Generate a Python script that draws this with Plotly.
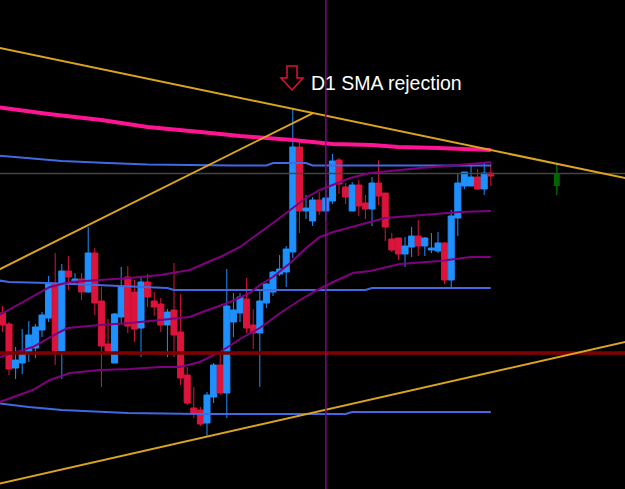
import plotly.graph_objects as go

W, H = 625, 489

# ---------------- candle data (index, OHLC in chart price units) ----------------
idx = list(range(75))
opens = [176,165,121,126,137,141,159,171,205,138,218,208,210,197,236,188,145,126,172,212,
         197,161,207,188,185,164,179,157,114,81,79,66,92,124,96,167,176,190,164,156,
         186,197,215,217,237,342,278,268,289,278,288,329,302,278,304,286,280,306,296,250,
         251,235,242,253,243,239,238,246,209,271,303,303,312,300,316]
highs = [183,167,142,160,168,165,177,213,236,225,233,216,216,262,241,202,170,176,222,223,
         209,212,215,197,191,180,226,195,122,102,82,97,126,138,220,196,196,211,180,198,
         206,218,234,243,380,347,294,292,297,307,335,331,306,307,309,294,312,329,296,256,
         251,252,262,269,252,256,257,247,279,316,317,325,320,326,326]
lows = [157,114,110,115,127,131,152,167,124,110,199,204,189,196,174,102,136,126,165,156,
        147,132,182,173,157,132,132,104,84,71,63,52,86,94,71,152,167,156,140,102,
        181,193,213,202,231,256,270,263,274,268,285,295,285,278,273,270,263,284,248,237,
        229,222,232,233,233,236,236,205,202,253,300,303,299,294,303]
closes = [164,120,129,135,154,162,174,206,138,218,212,210,197,236,186,143,138,175,203,163,
          160,207,192,182,164,177,154,111,86,76,65,94,124,96,183,179,192,161,156,188,
          205,217,220,240,342,278,281,289,278,291,328,305,292,304,283,280,306,293,262,239,
          235,243,253,243,251,241,246,209,273,306,317,312,300,316,313]

# higher-timeframe (green) candle on the right
g_idx = [84]
g_open, g_high, g_low, g_close = [303], [326], [294], [316]

# ---------------- indicators ----------------
sma_x = [-1, 2, 7, 15, 22, 30, 36, 44, 50, 56, 60, 66, 74]
sma_y = [382, 379, 375, 369, 362, 357, 353, 349, 345, 344, 342, 341, 339]

blue_up_x = [-1, 2, 6, 9, 16, 22, 35, 40, 41, 46, 47, 74]
blue_up_y = [333.5, 332, 330, 328, 326, 324.5, 323.5, 323.5, 326, 326, 323.5, 323.5]
blue_mid_x = [-1, 1, 7, 17, 25, 26, 55, 56, 74]
blue_mid_y = [209, 207, 206, 203, 201, 199, 199, 201, 201]
blue_lo_x = [-1, 4, 9, 19, 30, 52, 53, 74]
blue_lo_y = [86, 82, 79, 76, 75, 75, 77, 77]

bb_up_x = [-0.4, 4.6, 7.2, 10.2, 14.8, 19.3, 23.9, 28.4, 31.5, 33, 36, 39, 41, 43.6, 46.2,
           48.1, 50.1, 52.7, 55.7, 63.3, 70.9, 74]
bb_up_y = [174, 192, 202, 207, 209, 211, 214, 219, 228, 232, 242, 256, 266, 279, 292,
           299, 304, 311, 316, 321, 325, 327]
bb_mid_x = [-0.4, 4.6, 8.7, 9.9, 14.8, 19.3, 23.9, 28.4, 29.9, 31.5, 34.5, 37.5, 39, 41,
            43.6, 46.2, 48.1, 50.1, 52.7, 55.7, 58, 63.3, 69.3, 74]
bb_mid_y = [132, 142, 157, 161, 164, 166, 169, 172, 176, 180, 187, 196, 204, 212,
            226, 242, 252, 257, 262, 267, 271, 274, 277, 278]
bb_lo_x = [-0.4, 4.6, 7.2, 10.2, 14.8, 19.3, 23.9, 26.9, 29.9, 33, 36, 39, 42.1, 45.1,
           47.7, 50.1, 53.1, 55.7, 60.2, 66.3, 70.9, 74]
bb_lo_y = [87, 99, 109, 116, 119, 120, 122, 122, 127, 137, 150, 161, 176, 189,
           199, 207, 216, 218, 225, 228, 232, 232]

# trend lines (anchor points)
tl_down_x, tl_down_y = [-1, 95], [441.9, 310.1]
tl_short_x, tl_short_y = [-1, 47.06], [217.9, 375.9]
tl_long_x, tl_long_y = [-1, 95], [4.5, 148]

support_level = 136
bid_level = 315.5
vline_idx = 49

annotation_text = "D1 SMA rejection"

# ---------------- figure ----------------
fig = go.Figure()

def line(x, y, color, width):
    fig.add_trace(go.Scatter(x=x, y=y, mode="lines", hoverinfo="skip",
                             line=dict(color=color, width=width)))

line([-1, 95], [bid_level, bid_level], "#444444", 1.5)

fig.add_trace(go.Candlestick(
    x=idx, open=opens, high=highs, low=lows, close=closes,
    increasing=dict(line=dict(color="#1E90FF", width=1), fillcolor="#1E90FF"),
    decreasing=dict(line=dict(color="#DC143C", width=1), fillcolor="#DC143C"),
    whiskerwidth=0))

# green candle: wick + body
for i in range(len(g_idx)):
    line([g_idx[i], g_idx[i]], [g_low[i], g_high[i]], "#006400", 1.5)
fig.add_trace(go.Bar(
    x=g_idx,
    base=[min(o, c) for o, c in zip(g_open, g_close)],
    y=[abs(c - o) for o, c in zip(g_open, g_close)],
    width=0.9, marker=dict(color="#006400", line=dict(width=0)), hoverinfo="skip"))

line(blue_up_x, blue_up_y, "#4169E1", 2)
line(blue_mid_x, blue_mid_y, "#4169E1", 2)
line(blue_lo_x, blue_lo_y, "#4169E1", 2)
line(bb_up_x, bb_up_y, "#800080", 2)
line(bb_mid_x, bb_mid_y, "#800080", 2)
line(bb_lo_x, bb_lo_y, "#800080", 2)
line(sma_x, sma_y, "#FF1493", 4)
line([-1, 95], [support_level, support_level], "#800000", 3.5)
line(tl_down_x, tl_down_y, "#DAA520", 2)
line(tl_short_x, tl_short_y, "#DAA520", 2)
line(tl_long_x, tl_long_y, "#DAA520", 2)
line([vline_idx, vline_idx], [-10, 500], "#8B008B", 1.5)

def px(x, y):
    return x / W, 1 - y / H

pts = [(287, 66), (297, 66), (297, 78), (303, 78), (292, 90), (281, 78), (287, 78)]
path = "M " + " L ".join(f"{px(a, b)[0]:.4f},{px(a, b)[1]:.4f}" for a, b in pts) + " Z"

fig.update_layout(
    width=W, height=H,
    margin=dict(l=0, r=0, t=0, b=0),
    paper_bgcolor="black", plot_bgcolor="black",
    showlegend=False,
    boxmode="overlay", boxgap=0.08, boxgroupgap=0,
    xaxis=dict(range=[-0.364, 94.33], visible=False, showgrid=False,
               rangeslider=dict(visible=False)),
    yaxis=dict(range=[0, 489], visible=False, showgrid=False),
    shapes=[dict(type="path", xref="paper", yref="paper", path=path,
                 line=dict(color="#DC143C", width=1.5), fillcolor="black")],
    annotations=[dict(x=309 / W, y=1 - 83 / H, xref="paper", yref="paper",
                      xanchor="left", yanchor="middle", showarrow=False,
                      text=annotation_text,
                      font=dict(family="Liberation Sans, Arial", size=19.5, color="white"))],
)

fig.write_html("out.html")
